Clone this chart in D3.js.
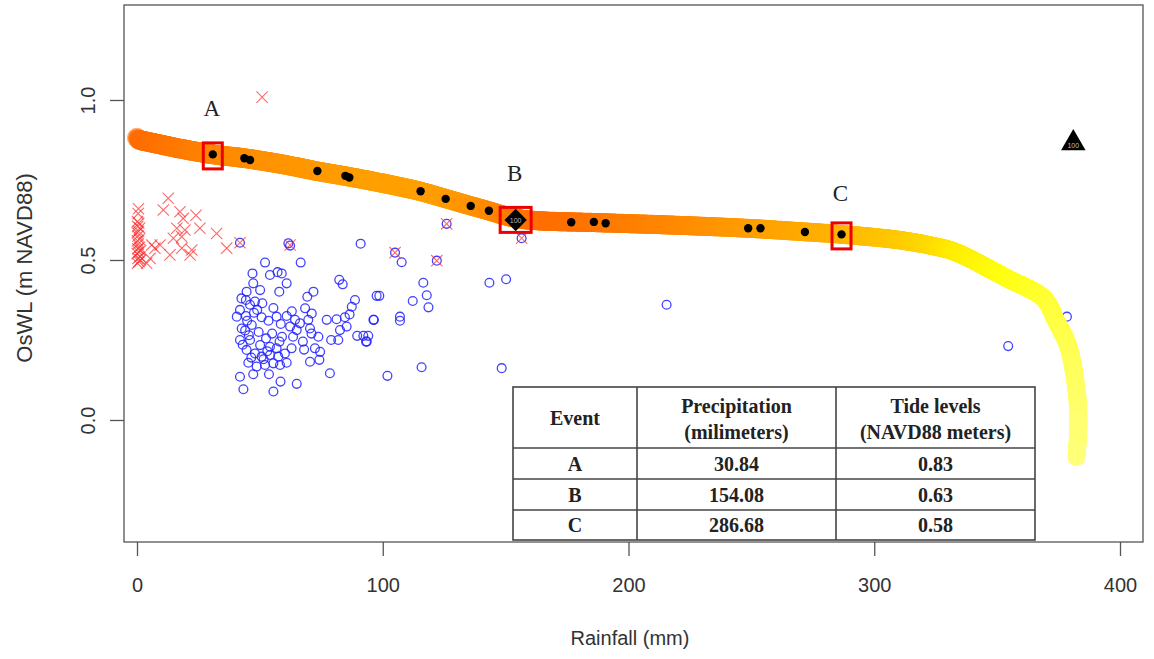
<!DOCTYPE html>
<html>
<head>
<meta charset="utf-8">
<script src="https://cdn.jsdelivr.net/npm/d3@7"></script>
<style>
  body { margin: 0; background: #fff; }
  svg { display: block; }
</style>
</head>
<body>
<svg id="chart" width="1154" height="659"></svg>
<script>
// ---------------------------------------------------------------------------
// Data (rainfall in mm, OsWL in m NAVD88)
// ---------------------------------------------------------------------------

// Joint return-level curve
const curveRain  = [0, 15, 31, 44, 60, 73, 85, 100, 115, 126, 136, 143, 150, 156, 165, 177, 191, 222, 249, 272, 287, 310, 325, 333, 354, 369, 374, 379, 382.3, 383.1, 382.3];
const curveLevel = [0.877, 0.852, 0.83, 0.818, 0.798, 0.778, 0.762, 0.74, 0.715, 0.691, 0.669, 0.654, 0.638, 0.628, 0.622, 0.619, 0.616, 0.608, 0.599, 0.588, 0.58, 0.5625, 0.542, 0.525, 0.443, 0.38, 0.31, 0.229, 0.094, -0.01, -0.115];

// Sampled events lying on the curve
const simRain  = [43.7, 46.0, 73.4, 84.8, 86.4, 115.4, 125.6, 135.8, 143.2, 176.7, 185.9, 190.7, 248.7, 253.7, 271.8];
const simLevel = [0.818, 0.8125, 0.778, 0.763, 0.758, 0.715, 0.691, 0.669, 0.654, 0.618, 0.619, 0.615, 0.599, 0.599, 0.5875];

// Observed pairs (blue circles)
const obsPoints = [
  [41.9, 0.554], [61.6, 0.552], [62.3, 0.545], [91.0, 0.551], [52.1, 0.492], [66.6, 0.492],
  [47.0, 0.458], [54.1, 0.453], [57.2, 0.462], [58.9, 0.458], [44.6, 0.401], [50.1, 0.406],
  [47.3, 0.427], [44.3, 0.375], [48.0, 0.370], [48.9, 0.344], [60.9, 0.427], [57.9, 0.401],
  [82.3, 0.438], [83.7, 0.424], [97.5, 0.388], [71.8, 0.401], [69.3, 0.385], [68.4, 0.349],
  [71.1, 0.333], [88.7, 0.375], [87.4, 0.354], [40.6, 0.323], [41.9, 0.344], [44.3, 0.325],
  [47.6, 0.335], [50.7, 0.321], [46.7, 0.297], [42.6, 0.286], [56.8, 0.323], [60.9, 0.325],
  [64.3, 0.313], [62.3, 0.292], [66.3, 0.302], [69.7, 0.313], [65.0, 0.281], [77.2, 0.313],
  [81.2, 0.315], [84.6, 0.321], [85.3, 0.292], [82.6, 0.281], [81.9, 0.25], [89.6, 0.263],
  [96.2, 0.313], [70.4, 0.286], [73.8, 0.260], [72.4, 0.224], [74.5, 0.213], [70.4, 0.182],
  [74.2, 0.188], [41.9, 0.25], [46.0, 0.25], [50.1, 0.234], [54.1, 0.229], [56.8, 0.224],
  [44.6, 0.219], [48.0, 0.208], [50.7, 0.198], [54.1, 0.203], [57.5, 0.198], [60.2, 0.208],
  [62.9, 0.224], [60.9, 0.179], [45.3, 0.179], [48.7, 0.167], [52.1, 0.172], [55.5, 0.177],
  [58.2, 0.172], [78.5, 0.146], [41.9, 0.135], [47.3, 0.143], [53.7, 0.143], [58.4, 0.120],
  [65.0, 0.113], [43.3, 0.096], [55.5, 0.089],
  [44.0, 0.28], [45.5, 0.265], [49.5, 0.275], [52.5, 0.255], [55.0, 0.27], [58.0, 0.245],
  [51.5, 0.19], [46.5, 0.195], [43.0, 0.235], [53.0, 0.215], [59.0, 0.26], [63.5, 0.26],
  [67.5, 0.245], [58.5, 0.30], [53.5, 0.31], [44.8, 0.31], [42.5, 0.38], [46.0, 0.36],
  [51.0, 0.365], [55.5, 0.35], [63.0, 0.34], [71.0, 0.27], [68.0, 0.22], [79.0, 0.25],
  [86.5, 0.33], [93.5, 0.245],
  [105.0, 0.523], [107.7, 0.493], [122.0, 0.498], [116.5, 0.429], [117.9, 0.39], [118.6, 0.352],
  [112.2, 0.372], [98.6, 0.388], [96.4, 0.313], [107.0, 0.323], [107.0, 0.31], [92.1, 0.263],
  [94.1, 0.263], [93.2, 0.245], [101.9, 0.138], [115.8, 0.165], [143.4, 0.429], [150.2, 0.44],
  [148.4, 0.162], [156.5, 0.568], [126.0, 0.613],
  [215.5, 0.36], [354.5, 0.231], [378.4, 0.323]
];

// Pairs marked with a red cross
const crossPoints = [
  [0.2, 0.49], [0.8, 0.495], [0.4, 0.505], [1.2, 0.51], [0.1, 0.52], [0.7, 0.525], [0.3, 0.535],
  [1.0, 0.54], [0.5, 0.55], [0.2, 0.56], [0.9, 0.565], [0.4, 0.575], [0.1, 0.585], [0.6, 0.59],
  [1.1, 0.60], [0.3, 0.605], [0.7, 0.615], [0.2, 0.62], [0.5, 0.645], [0.6, 0.66], [1.4, 0.50],
  [1.5, 0.53],
  [12.7, 0.693], [10.7, 0.656], [17.5, 0.651], [18.8, 0.63], [16.2, 0.599], [19.5, 0.594],
  [25.6, 0.599], [32.4, 0.583], [14.8, 0.568], [18.2, 0.573], [6.0, 0.547], [9.4, 0.547],
  [18.2, 0.537], [22.3, 0.531], [13.4, 0.516], [21.6, 0.516], [36.5, 0.537], [7.3, 0.537],
  [5.3, 0.505], [3.9, 0.49], [24.0, 0.64], [50.9, 1.009],
  [41.9, 0.554], [62.3, 0.547], [105.0, 0.523], [122.0, 0.498], [126.0, 0.613], [156.5, 0.568]
];

// Highlighted events
const events     = ["A", "B", "C"];
const eventRain  = [30.84, 154.08, 286.68];
const eventTide  = [0.83, 0.63, 0.58];
const eventLabelLevel = [0.95, 0.747, 0.684];

// Most likely design events ("100")
const diamondPoint  = [154.08, 0.625];
const trianglePoint = [381.0, 0.865];

const xTicks = [0, 100, 200, 300, 400];
const yTicks = [0, 0.5, 1.0];

// ---------------------------------------------------------------------------
// Setup
// ---------------------------------------------------------------------------

const svg = d3.select("#chart");
const sans = "'Liberation Sans', Arial, sans-serif";
const serif = "'Liberation Serif', 'Times New Roman', serif";

const x = d3.scaleLinear().domain([0, 400]).range([137, 1120]);
const y = d3.scaleLinear().domain([0, 1]).range([420, 100]);

const box = { left: 124, right: 1143, top: 5, bottom: 542 };

// ---------------------------------------------------------------------------
// Scatter of observations
// ---------------------------------------------------------------------------

svg.append("g")
  .selectAll("circle")
  .data(obsPoints)
  .join("circle")
  .attr("cx", (d) => x(d[0]))
  .attr("cy", (d) => y(d[1]))
  .attr("r", 4.4)
  .attr("fill", "none")
  .attr("stroke", "#2020ff")
  .attr("stroke-opacity", 0.85)
  .attr("stroke-width", 1.3);

const cross = d3.symbol().type(d3.symbolX).size(85);
svg.append("g")
  .selectAll("path")
  .data(crossPoints)
  .join("path")
  .attr("d", cross)
  .attr("transform", (d) => `translate(${x(d[0])},${y(d[1])})`)
  .attr("fill", "none")
  .attr("stroke", "#ff2a2a")
  .attr("stroke-opacity", 0.7)
  .attr("stroke-width", 1.1);

// ---------------------------------------------------------------------------
// Thick colour band along the curve
// ---------------------------------------------------------------------------

const curvePts = curveRain.map((d, i) => [x(d), y(curveLevel[i])]);
const guide = svg.append("path")
  .attr("d", d3.line().curve(d3.curveCatmullRom.alpha(0.5))(curvePts))
  .attr("fill", "none")
  .attr("stroke", "none");
const total = guide.node().getTotalLength();

// colour per anchor, mapped by polyline length fraction
const bandColors = ["#ff6a00", "#ff7600", "#ff8400", "#ff8c00", "#ff9400", "#ff9800", "#ff9c00",
  "#ffa000", "#ffa000", "#ff9c00", "#ff9400", "#ff8c00", "#ff8000", "#ff7600", "#ff6e00",
  "#ff7000", "#ff7800", "#ff8a00", "#ff9c00", "#ffaa00", "#ffb400", "#ffc800", "#ffdc00",
  "#ffec00", "#ffff10", "#ffff30", "#ffff40", "#ffff50", "#ffff62", "#ffff70", "#ffff78"];
const cum = [0];
for (let i = 1; i < curvePts.length; i++) {
  cum.push(cum[i - 1] + Math.hypot(curvePts[i][0] - curvePts[i - 1][0], curvePts[i][1] - curvePts[i - 1][1]));
}
const bandColor = d3.scaleLinear()
  .domain(cum.map((c) => c / cum[cum.length - 1]))
  .range(bandColors)
  .interpolate(d3.interpolateRgb);

const step = 1.2;
const nSamples = Math.ceil(total / step);
const samples = d3.range(nSamples + 1).map((i) => {
  const p = guide.node().getPointAtLength((total * i) / nSamples);
  return { px: p.x, py: p.y, f: i / nSamples };
});

// pale ring at the start of the band (drawn underneath)
svg.append("circle")
  .attr("cx", samples[0].px)
  .attr("cy", samples[0].py - 1.5)
  .attr("r", 9.5)
  .attr("fill", "#ff7a1a")
  .attr("stroke", "#f9b47a")
  .attr("stroke-width", 1.2);

svg.append("g")
  .selectAll("circle")
  .data(samples.slice(2))
  .join("circle")
  .attr("cx", (d) => d.px)
  .attr("cy", (d) => d.py)
  .attr("r", (d) => 10 - 1 * d.f)
  .attr("fill", (d) => bandColor(d.f));

// ---------------------------------------------------------------------------
// Points on the curve, highlighted events
// ---------------------------------------------------------------------------

svg.append("g")
  .selectAll("circle")
  .data(simRain)
  .join("circle")
  .attr("cx", (d) => x(d))
  .attr("cy", (d, i) => y(simLevel[i]))
  .attr("r", 4.2)
  .attr("fill", "#000");

// A and C dots (B is the diamond)
svg.append("g")
  .selectAll("circle")
  .data(events.filter((e) => e !== "B"))
  .join("circle")
  .attr("cx", (e) => x(eventRain[events.indexOf(e)]))
  .attr("cy", (e) => y(eventTide[events.indexOf(e)]))
  .attr("r", 4.2)
  .attr("fill", "#000");

// Diamond at B
const dg = svg.append("g")
  .attr("transform", `translate(${x(diamondPoint[0])},${y(diamondPoint[1])})`);
dg.append("path")
  .attr("d", d3.symbol().type(d3.symbolSquare).size(250)())
  .attr("transform", "rotate(45)")
  .attr("fill", "#000");
dg.append("text")
  .attr("text-anchor", "middle")
  .attr("y", 2.5)
  .attr("font-family", sans)
  .attr("font-size", 7)
  .attr("fill", "#bbb")
  .text("100");

// Triangle
const tg = svg.append("g")
  .attr("transform", `translate(${x(trianglePoint[0])},${y(trianglePoint[1])})`);
tg.append("path")
  .attr("d", d3.symbol().type(d3.symbolTriangle).size(260)())
  .attr("fill", "#000");
tg.append("text")
  .attr("text-anchor", "middle")
  .attr("y", 5)
  .attr("font-family", sans)
  .attr("font-size", 7)
  .attr("fill", "#bbb")
  .text("100");

// Red squares
const squareSize = { A: [19, 26], B: [31, 25], C: [19, 26] };
svg.append("g")
  .selectAll("rect")
  .data(events)
  .join("rect")
  .attr("x", (e, i) => x(eventRain[i]) - squareSize[e][0] / 2)
  .attr("y", (e, i) => y(eventTide[i]) - squareSize[e][1] / 2 + 1.5)
  .attr("width", (e) => squareSize[e][0])
  .attr("height", (e) => squareSize[e][1])
  .attr("fill", "none")
  .attr("stroke", "#ee0000")
  .attr("stroke-width", 3);

svg.append("g")
  .selectAll("text")
  .data(events)
  .join("text")
  .attr("x", (e, i) => x(eventRain[i]) - 1)
  .attr("y", (e, i) => y(eventLabelLevel[i]))
  .attr("text-anchor", "middle")
  .attr("font-family", serif)
  .attr("font-size", 23)
  .attr("fill", "#222")
  .text((e) => e);

// ---------------------------------------------------------------------------
// Table
// ---------------------------------------------------------------------------

const colX = [513, 637, 836, 1035];
const rowY = [387, 448, 479, 510, 540];
const table = svg.append("g");
table.append("rect")
  .attr("x", colX[0]).attr("y", rowY[0])
  .attr("width", colX[3] - colX[0]).attr("height", rowY[4] - rowY[0])
  .attr("fill", "#fff")
  .attr("stroke", "#444")
  .attr("stroke-width", 1.6);
colX.slice(1, 3).forEach((cx) => {
  table.append("line")
    .attr("x1", cx).attr("x2", cx).attr("y1", rowY[0]).attr("y2", rowY[4])
    .attr("stroke", "#444").attr("stroke-width", 1.6);
});
rowY.slice(1, 4).forEach((ry) => {
  table.append("line")
    .attr("x1", colX[0]).attr("x2", colX[3]).attr("y1", ry).attr("y2", ry)
    .attr("stroke", "#444").attr("stroke-width", 1.6);
});

const cellText = (cx, cy, txt) => table.append("text")
  .attr("x", cx).attr("y", cy)
  .attr("text-anchor", "middle")
  .attr("font-family", serif)
  .attr("font-weight", "bold")
  .attr("font-size", 20)
  .attr("fill", "#222")
  .text(txt);

const mid = (i) => (colX[i] + colX[i + 1]) / 2;
cellText(mid(0), 425, "Event");
cellText(mid(1), 413, "Precipitation");
cellText(mid(1), 439, "(milimeters)");
cellText(mid(2), 413, "Tide levels");
cellText(mid(2), 439, "(NAVD88 meters)");
events.forEach((e, i) => {
  const cy = (rowY[i + 1] + rowY[i + 2]) / 2 + 7;
  cellText(mid(0), cy, e);
  cellText(mid(1), cy, d3.format(".2f")(eventRain[i]));
  cellText(mid(2), cy, d3.format(".2f")(eventTide[i]));
});

// ---------------------------------------------------------------------------
// Box and axes
// ---------------------------------------------------------------------------

svg.append("rect")
  .attr("x", box.left).attr("y", box.top)
  .attr("width", box.right - box.left).attr("height", box.bottom - box.top)
  .attr("fill", "none")
  .attr("stroke", "#555")
  .attr("stroke-width", 1.3);

const xAxis = svg.append("g")
  .attr("transform", `translate(0,${box.bottom})`)
  .call(d3.axisBottom(x).tickValues(xTicks).tickSize(14).tickPadding(22).tickFormat(d3.format("d")));
xAxis.select(".domain").remove();
xAxis.selectAll("line").attr("stroke", "#555").attr("stroke-width", 1.3);
xAxis.selectAll("text")
  .attr("font-family", sans).attr("font-size", 20).attr("fill", "#333");

const yAxis = svg.append("g")
  .attr("transform", `translate(${box.left},0)`)
  .call(d3.axisLeft(y).tickValues(yTicks).tickSize(14).tickFormat(d3.format(".1f")));
yAxis.select(".domain").remove();
yAxis.selectAll("line").attr("stroke", "#555").attr("stroke-width", 1.3);
yAxis.selectAll("text")
  .attr("x", 0).attr("dy", null)
  .attr("transform", `translate(-29,0) rotate(-90)`)
  .attr("text-anchor", "middle")
  .attr("font-family", sans).attr("font-size", 20).attr("fill", "#333");

svg.append("text")
  .attr("x", 630).attr("y", 645)
  .attr("text-anchor", "middle")
  .attr("font-family", sans).attr("font-size", 20).attr("fill", "#333")
  .text("Rainfall (mm)");

svg.append("text")
  .attr("transform", "translate(32,268) rotate(-90)")
  .attr("text-anchor", "middle")
  .attr("font-family", sans).attr("font-size", 22).attr("fill", "#333")
  .text("OsWL (m NAVD88)");
</script>
</body>
</html>
